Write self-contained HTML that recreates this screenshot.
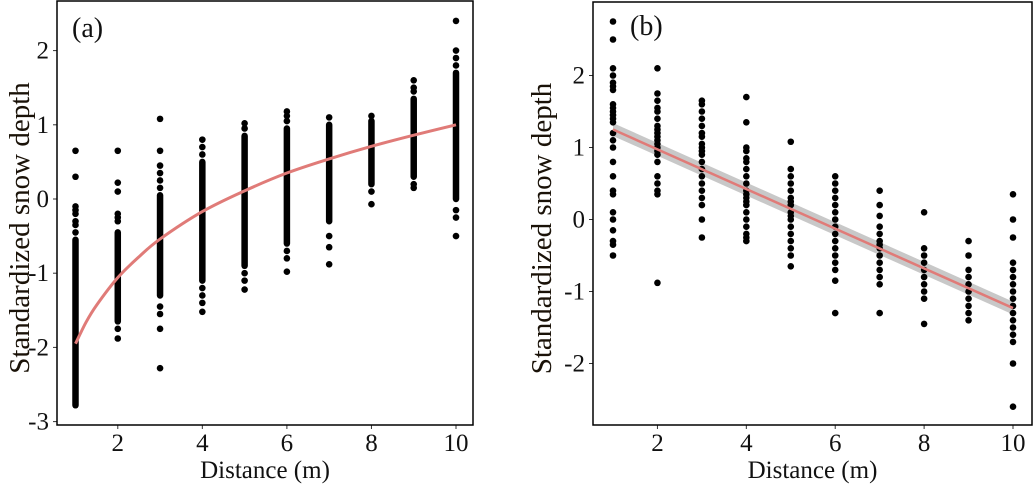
<!DOCTYPE html>
<html><head><meta charset="utf-8"><style>
html,body{margin:0;padding:0;background:#fff}
svg{display:block}
svg text{font-family:"Liberation Serif","DejaVu Serif",serif}
</style></head><body>
<svg id="chart" width="1034" height="490" viewBox="0 0 1034 490"></svg>
<script>
// Panel (a) data
const distancesA = [1,2,3,4,5,6,7,8,9,10];
const denseRangeA = [[-2.78,-0.55],[-1.65,-0.45],[-1.3,0.05],[-1.1,0.5],[-0.9,0.85],[-0.6,0.95],[-0.3,1.0],[0.2,1.05],[0.3,1.35],[0.0,1.7]];
const outliersA = [
  [0.65,0.3,-0.1,-0.15,-0.2,-0.3,-0.35,-0.45],
  [0.65,0.22,0.1,-0.2,-0.25,-0.3,-1.75,-1.88],
  [1.08,0.65,0.45,0.35,0.25,0.15,-1.45,-1.55,-1.75,-2.28],
  [0.8,0.7,0.6,-1.2,-1.3,-1.4,-1.52],
  [1.02,0.95,-1.0,-1.1,-1.22],
  [1.18,1.12,1.05,-0.7,-0.8,-0.98],
  [1.1,-0.5,-0.65,-0.88],
  [1.12,0.1,-0.07],
  [1.6,1.5,1.45,0.2,0.15],
  [2.4,2.0,1.9,1.8,-0.15,-0.25,-0.5]
];
const fitDistA = [1,1.25,1.5,2,2.5,3,4,5,6,7,8,9,10];
const fitA = [-1.95,-1.66,-1.43,-1.06,-0.78,-0.54,-0.17,0.11,0.35,0.54,0.71,0.86,1.0];
const yTicksA = [2,1,0,-1,-2,-3];
const xTicks = [2,4,6,8,10];
// Panel (b) data
const distancesB = [1,2,3,4,5,6,7,8,9,10];
const pointsB = [
  [2.75,2.5,2.1,2.0,1.9,1.85,1.8,1.6,1.55,1.5,1.45,1.4,1.35,1.2,1.1,1.0,0.8,0.6,0.4,0.35,0.1,0.0,-0.15,-0.3,-0.35,-0.5],
  [2.1,1.75,1.65,1.55,1.5,1.4,1.3,1.25,1.2,1.15,1.1,1.05,1.0,0.95,0.9,0.8,0.6,0.5,0.4,0.35,-0.88],
  [1.65,1.6,1.5,1.4,1.3,1.2,1.15,1.05,1.0,0.95,0.9,0.8,0.7,0.6,0.5,0.4,0.3,0.2,0.0,-0.25],
  [1.7,1.35,1.0,0.95,0.85,0.8,0.7,0.6,0.5,0.4,0.35,0.3,0.25,0.2,0.1,0.0,-0.1,-0.2,-0.25,-0.3],
  [1.08,0.7,0.6,0.5,0.4,0.3,0.25,0.2,0.1,0.05,0.0,-0.1,-0.2,-0.3,-0.4,-0.5,-0.65],
  [0.6,0.5,0.4,0.3,0.2,0.1,0.0,-0.1,-0.2,-0.3,-0.4,-0.5,-0.6,-0.7,-0.85,-1.3],
  [0.4,0.2,0.05,-0.1,-0.2,-0.3,-0.35,-0.4,-0.5,-0.6,-0.7,-0.8,-0.9,-1.3],
  [0.1,-0.4,-0.5,-0.6,-0.7,-0.8,-0.9,-1.0,-1.1,-1.45],
  [-0.3,-0.5,-0.7,-0.8,-0.9,-1.0,-1.1,-1.2,-1.3,-1.4],
  [0.35,0.0,-0.25,-0.6,-0.7,-0.8,-0.9,-1.0,-1.1,-1.2,-1.3,-1.4,-1.5,-1.6,-1.7,-2.0,-2.6]
];
const fitB = [1.25,-1.23];
const ciB = [0.09,0.09];
const yTicksB = [2,1,0,-1,-2];

const NS="http://www.w3.org/2000/svg";
const svg=document.getElementById('chart');
const FONT='"Liberation Serif","DejaVu Serif",serif';
function mk(tag,attrs,parent){const e=document.createElementNS(NS,tag);for(const k in attrs)e.setAttribute(k,attrs[k]);if(tag==='text')e.setAttribute('font-family',FONT);(parent||svg).appendChild(e);return e;}

function panel(o){
  const g=mk('g',{});
  
  
  const xs=v=>o.x1+(v-1)*(o.x10-o.x1)/9;
  const ys=v=>o.y0+(0-v)*o.unit;
  o.yTicks.forEach(t=>{
    const l=mk('line',{x1:o.left-4,x2:o.left,y1:ys(t),y2:ys(t),stroke:'#333','stroke-width':1},g);
    
    
    const tx=mk('text',{x:o.left-8,y:ys(t)+8,'text-anchor':'end','font-size':25,fill:'#111'},g);
    tx.textContent=t;
    
    
  });
  xTicks.forEach(t=>{
    const l=mk('line',{x1:xs(t),x2:xs(t),y1:o.bottom,y2:o.bottom+4,stroke:'#333','stroke-width':1},g);
    
    
    const tx=mk('text',{x:xs(t),y:o.bottom+26,'text-anchor':'middle','font-size':25,fill:'#111'},g);
    tx.textContent=t;
    
    
  });
  const xl=mk('text',{x:(o.left+o.right)/2,y:o.bottom+53,'text-anchor':'middle','font-size':25,fill:'#111'},g);
  xl.textContent='Distance (m)';
  
  
  const yx=o.left-o.ylabDx, yy=(o.top+o.bottom)/2+o.ylabOff;
  const yl=mk('text',{x:yx,y:yy,'text-anchor':'middle','font-size':29,fill:'#1a1208',transform:`rotate(-90 ${yx} ${yy})`},g);
  yl.textContent='Standardized snow depth';
  
  
  return {g,xs,ys};
}

// Panel A
const A={name:'panel-a',left:57,right:473,top:1,bottom:425,x1:75.5,x10:456,y0:199,unit:74.2,yTicks:yTicksA,ylabOff:15,ylabDx:28};
const pa=panel(A);
distancesA.forEach((d,i)=>{
  const r=denseRangeA[i];
  const b=mk('line',{x1:pa.xs(d),x2:pa.xs(d),y1:pa.ys(r[1]),y2:pa.ys(r[0]),stroke:'#000','stroke-width':6.5,'stroke-linecap':'round'},pa.g);
  
  
  outliersA[i].forEach(v=>{
    const c=mk('circle',{cx:pa.xs(d),cy:pa.ys(v),r:3.3,fill:'#000'},pa.g);
    
    
  });
});
{
  const P=fitDistA.map((d,i)=>[pa.xs(d),pa.ys(fitA[i])]);
  let dstr=`M${P[0][0]},${P[0][1]}`;
  for(let i=0;i<P.length-1;i++){
    const p0=P[Math.max(0,i-1)],p1=P[i],p2=P[i+1],p3=P[Math.min(P.length-1,i+2)];
    const c1=[p1[0]+(p2[0]-p0[0])/6,p1[1]+(p2[1]-p0[1])/6];
    const c2=[p2[0]-(p3[0]-p1[0])/6,p2[1]-(p3[1]-p1[1])/6];
    dstr+=` C${c1[0]},${c1[1]} ${c2[0]},${c2[1]} ${p2[0]},${p2[1]}`;
  }
  const fl=mk('path',{d:dstr,fill:'none',stroke:'#e07b78','stroke-width':3},pa.g);
  
  
}
{
  const fr=mk('rect',{x:A.left,y:A.top,width:A.right-A.left,height:A.bottom-A.top,fill:'none',stroke:'#000','stroke-width':1.5},pa.g);
  
  
  const t=mk('text',{x:72,y:37,'font-size':28,fill:'#111'},pa.g);
  t.textContent='(a)';
  
  
}

// Panel B
const B={name:'panel-b',left:593,right:1032,top:2,bottom:425,x1:613,x10:1013,y0:219.5,unit:72,yTicks:yTicksB,ylabOff:15,ylabDx:42};
const pb=panel(B);
{
  const x1=pb.xs(1),x2=pb.xs(10);
  const band=mk('polygon',{points:`${x1},${pb.ys(fitB[0]+ciB[0])} ${x2},${pb.ys(fitB[1]+ciB[1])} ${x2},${pb.ys(fitB[1]-ciB[1])} ${x1},${pb.ys(fitB[0]-ciB[0])}`,fill:'#c8c8c8'},pb.g);
  
  
}
distancesB.forEach((d,i)=>{
  pointsB[i].forEach(v=>{
    const c=mk('circle',{cx:pb.xs(d),cy:pb.ys(v),r:3.3,fill:'#000'},pb.g);
    
    
  });
});
{
  const l=mk('line',{x1:pb.xs(1),y1:pb.ys(fitB[0]),x2:pb.xs(10),y2:pb.ys(fitB[1]),stroke:'#e07b78','stroke-width':2.5},pb.g);
  
  
  const fr=mk('rect',{x:B.left,y:B.top,width:B.right-B.left,height:B.bottom-B.top,fill:'none',stroke:'#000','stroke-width':1.5},pb.g);
  
  
  const t=mk('text',{x:630,y:35,'font-size':28,fill:'#111'},pb.g);
  t.textContent='(b)';
  
  
}
</script>
</body></html>
